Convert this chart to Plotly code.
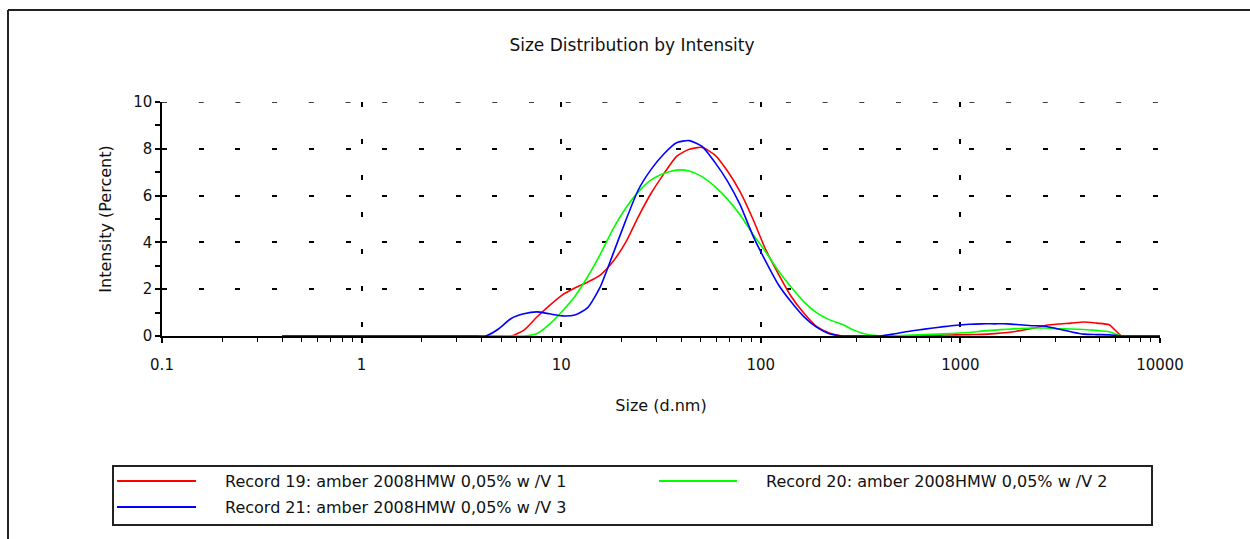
import plotly.graph_objects as go

# Size classes (d.nm) of the distribution
size_nm = [0.4, 0.4632, 0.5365, 0.6213, 0.7195, 0.8332, 0.9649, 1.117, 1.294, 1.499,
           1.736, 2.010, 2.328, 2.696, 3.122, 3.615, 4.187, 4.849, 5.615, 6.503,
           7.531, 8.721, 10.10, 11.70, 13.54, 15.69, 18.17, 21.04, 24.36, 28.21,
           32.67, 37.84, 43.82, 50.75, 58.77, 68.06, 78.82, 91.28, 105.7, 122.4,
           141.8, 164.2, 190.1, 220.2, 255.0, 295.3, 342.0, 396.1, 458.7, 531.2,
           615.1, 712.4, 825.0, 955.4, 1106, 1281, 1484, 1718, 1990, 2305,
           2669, 3091, 3580, 4145, 4801, 5560, 6439, 7456, 8635, 10000]

# Intensity (%) per size class
record_19 = [0, 0, 0, 0, 0, 0, 0, 0, 0, 0,
             0, 0, 0, 0, 0, 0, 0, 0, 0, 0.25,
             0.8, 1.3, 1.75, 2.05, 2.3, 2.6, 3.18, 4.0, 5.1, 6.1,
             6.93, 7.68, 7.98, 8.06, 7.74, 7.05, 6.16, 5.0, 3.7, 2.66,
             1.7, 0.98, 0.41, 0.13, 0, 0, 0, 0, 0, 0,
             0, 0.03, 0.04, 0.05, 0.06, 0.07, 0.1, 0.15, 0.23, 0.33,
             0.45, 0.51, 0.55, 0.6, 0.55, 0.48, 0, 0, 0, 0]

record_20 = [0, 0, 0, 0, 0, 0, 0, 0, 0, 0,
             0, 0, 0, 0, 0, 0, 0, 0, 0, 0,
             0.1, 0.5, 1.05, 1.69, 2.52, 3.49, 4.57, 5.46, 6.16, 6.67,
             6.94, 7.09, 7.05, 6.81, 6.39, 5.85, 5.17, 4.35, 3.6, 2.79,
             2.09, 1.47, 1.0, 0.7, 0.5, 0.24, 0.06, 0, 0, 0.03,
             0.05, 0.07, 0.09, 0.12, 0.15, 0.21, 0.25, 0.29, 0.32, 0.34,
             0.34, 0.31, 0.3, 0.28, 0.24, 0.18, 0, 0, 0, 0]

record_21 = [0, 0, 0, 0, 0, 0, 0, 0, 0, 0,
             0, 0, 0, 0, 0, 0, 0, 0.3, 0.75, 0.95,
             1.03, 0.95, 0.86, 0.9, 1.2, 2.1, 3.5, 4.93, 6.25, 7.12,
             7.78, 8.26, 8.35, 8.1, 7.43, 6.62, 5.6, 4.29, 3.2, 2.2,
             1.46, 0.83, 0.38, 0.1, 0, 0, 0, 0, 0.08, 0.18,
             0.26, 0.33, 0.4, 0.46, 0.5, 0.52, 0.52, 0.52, 0.48, 0.44,
             0.42, 0.3, 0.18, 0.08, 0.06, 0.05, 0, 0, 0, 0]

series_names = ["Record 19: amber 2008HMW 0,05% w /V 1",
                "Record 20: amber 2008HMW 0,05% w /V 2",
                "Record 21: amber 2008HMW 0,05% w /V 3"]
series_colors = ["#ff0000", "#00ff00", "#0000ff"]

x_tick_vals = [0.1, 1, 10, 100, 1000, 10000]
x_tick_text = ["0.1", "1", "10", "100", "1000", "10000"]
y_range = [0, 10]

W, H = 1250, 539
L, R, T, B = 162, 90, 102, 203
PW, PH = W - L - R, H - T - B

FONT = "DejaVu Sans, Liberation Sans, Arial, sans-serif"
INK = "#111111"


def px_x(px):
    return (px - L) / PW


def px_y(py):
    return (H - B - py) / PH


fig = go.Figure()
for name, color, vals in zip(series_names, series_colors, [record_19, record_20, record_21]):
    fig.add_trace(go.Scatter(
        x=size_nm, y=vals, name=name, mode="lines",
        line=dict(color=color, width=1.6, shape="spline", smoothing=0.6),
        showlegend=False,
    ))

grid_dash = "5px,31.7px"

fig.update_layout(
    width=W, height=H, autosize=False,
    margin=dict(l=L, r=R, t=T, b=B),
    paper_bgcolor="white", plot_bgcolor="white",
    font=dict(family=FONT, color=INK, size=15),
    title=dict(text="Size Distribution by Intensity", x=632 / W, xanchor="center",
               y=1 - 45 / H, yanchor="middle", xref="container", yref="container",
               font=dict(family=FONT, size=17, color=INK)),
    xaxis=dict(
        type="log", range=[-1, 4],
        tickmode="array", tickvals=x_tick_vals, ticktext=x_tick_text,
        ticks="outside", ticklen=5, tickwidth=1.5, tickcolor="black",
        ticklabelstandoff=9,
        showline=True, linecolor="black", linewidth=1.5,
        showgrid=True, gridcolor="black", gridwidth=1.5, griddash=grid_dash,
        zeroline=False,
        minor=dict(ticks="outside", ticklen=4, tickwidth=1, tickcolor="black",
                   dtick="D1", showgrid=False),
        tickfont=dict(family=FONT, size=15, color=INK),
        title=dict(text="Size (d.nm)", standoff=27, font=dict(family=FONT, size=16, color=INK)),
    ),
    yaxis=dict(
        range=y_range, dtick=2, tick0=0,
        ticks="outside", ticklen=5, tickwidth=1.5, tickcolor="black",
        showline=True, linecolor="black", linewidth=1.5,
        showgrid=True, gridcolor="black", gridwidth=1.5, griddash=grid_dash,
        zeroline=False,
        minor=dict(ticks="outside", ticklen=5, tickwidth=1.5, tickcolor="black",
                   dtick=1, showgrid=False),
        tickfont=dict(family=FONT, size=15, color=INK),
        title=dict(text="Intensity (Percent)", standoff=18, font=dict(family=FONT, size=16, color=INK)),
    ),
    yaxis2=dict(
        overlaying="y", anchor="x", side="left", range=y_range, dtick=2, tick0=0,
        ticks="inside", ticklen=5, tickwidth=1.5, tickcolor="black",
        minor=dict(ticks="inside", ticklen=5, tickwidth=1.5, tickcolor="black", dtick=1),
        showticklabels=False, showgrid=False, showline=False, zeroline=False,
    ),
)

shapes = []
# dotted gridline along the top of the plot (range edge)
shapes.append(dict(type="line", xref="paper", yref="y", x0=0, x1=1,
                   y0=y_range[1], y1=y_range[1],
                   line=dict(color="black", width=1.5, dash=grid_dash), layer="below"))
# outer frame (top and left edges)
shapes.append(dict(type="line", xref="paper", yref="paper",
                   x0=px_x(8), x1=px_x(W + 2), y0=px_y(10), y1=px_y(10),
                   line=dict(color="#222222", width=2)))
shapes.append(dict(type="line", xref="paper", yref="paper",
                   x0=px_x(8), x1=px_x(8), y0=px_y(10), y1=px_y(H + 2),
                   line=dict(color="#222222", width=2)))
# legend box
shapes.append(dict(type="rect", xref="paper", yref="paper",
                   x0=px_x(113), x1=px_x(1152), y0=px_y(466), y1=px_y(525),
                   line=dict(color="#222222", width=2), fillcolor="white"))

legend_rows = [(117, 196, 481, 223), (659, 737, 481, 764), (117, 196, 507, 223)]
annotations = []
for (xa, xb, yy, xt), name, color in zip(legend_rows, series_names, series_colors):
    shapes.append(dict(type="line", xref="paper", yref="paper",
                       x0=px_x(xa), x1=px_x(xb), y0=px_y(yy), y1=px_y(yy),
                       line=dict(color=color, width=2)))
    annotations.append(dict(text=name, xref="paper", yref="paper",
                            x=px_x(xt), y=px_y(yy), xanchor="left", yanchor="middle",
                            showarrow=False, font=dict(family=FONT, size=16, color=INK)))

fig.update_layout(shapes=shapes, annotations=annotations)

fig.write_html("out.html")
